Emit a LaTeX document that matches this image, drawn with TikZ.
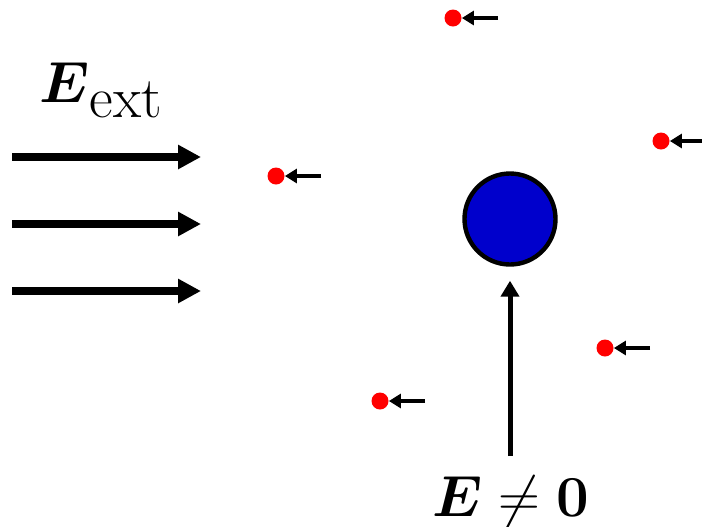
\RequirePackage{fix-cm}
\documentclass[tikz,border=0pt]{standalone}
\usepackage{amsmath,amssymb}
\usetikzlibrary{arrows.meta}
\definecolor{ballblue}{RGB}{0,0,204}

\begin{document}
\begin{tikzpicture}[
  x=0.5pt, y=-0.5pt,
  font=\fontsize{29}{33}\selectfont,
  field/.style={line width=4pt, -{Triangle[length=11.5pt,width=11.5pt]}},
  lift/.style={line width=2.5pt, -{Triangle[length=8pt,width=9pt]}, shorten >=7pt},
  push/.style={line width=2pt, -{Triangle[length=6pt,width=7pt]}},
  charge/.style={circle, fill=red, inner sep=0pt, minimum size=8.5pt},
  ball/.style={circle, draw, line width=2.2pt, fill=ballblue, inner sep=0pt, minimum size=45.5pt}
]
\useasboundingbox (0,0) rectangle (702,526);

% external field
\node (eext) at (101,90) {$\boldsymbol{E}_{\textstyle\mathrm{ext}}$};
\foreach \i/\y in {1/157,2/224,3/291} {
  \coordinate (fa\i) at (12,\y);
  \coordinate (fb\i) at (201,\y);
  \draw[field] (fa\i) -- (fb\i);
}

% charged sphere and its field
\node[ball] (ball) at (510,219) {};
\coordinate (src) at (510,456);
\draw[lift] (src) -- (ball.south);
\node (enz) at (511,502) {$\boldsymbol{E}\neq\mathbf{0}$};

% free charges, pushed to the left
\foreach \i/\x/\y in {1/453/18,2/276/176,3/661/141,4/605/348,5/380/401} {
  \node[charge] (q\i) at (\x,\y) {};
  \coordinate (p\i) at ({\x+45},\y);
  \draw[push] (p\i) -- (q\i);
}
\end{tikzpicture}
\end{document}
